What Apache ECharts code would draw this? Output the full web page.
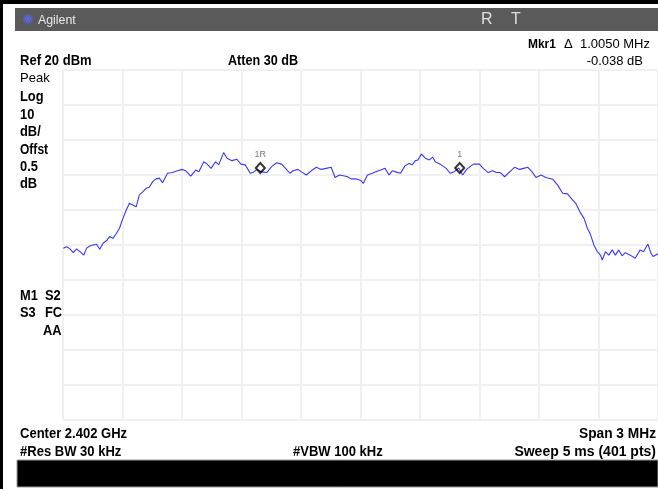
<!DOCTYPE html>
<html>
<head>
<meta charset="utf-8">
<script src="https://cdn.jsdelivr.net/npm/echarts@6/dist/echarts.min.js"></script>
<style>
html,body{margin:0;padding:0;background:#fff;}
#chart{width:658px;height:489px;}
</style>
</head>
<body>
<div id="chart"></div>
<script>
// ---- data (frequency in MHz, level in dBm) ----
const centerMHz = 2402.0;
const freqMHz = [
 2400.502,2400.519,2400.535,2400.552,2400.569,2400.585,2400.605,2400.619,2400.635,2400.652,
 2400.669,2400.685,2400.702,2400.719,2400.735,2400.752,2400.769,2400.785,2400.802,2400.819,
 2400.835,2400.852,2400.869,2400.885,2400.902,2400.919,2400.935,2400.952,2400.969,2400.985,
 2401.002,2401.027,2401.052,2401.077,2401.102,2401.119,2401.144,2401.169,2401.185,2401.210,
 2401.227,2401.247,2401.269,2401.285,2401.310,2401.327,2401.352,2401.377,2401.397,2401.419,
 2401.444,2401.460,2401.477,2401.502,2401.527,2401.552,2401.577,2401.602,2401.622,2401.644,
 2401.660,2401.685,2401.702,2401.727,2401.752,2401.777,2401.802,2401.827,2401.852,2401.872,
 2401.894,2401.919,2401.935,2401.952,2401.977,2402.002,2402.014,2402.035,2402.060,2402.077,
 2402.102,2402.124,2402.144,2402.160,2402.177,2402.202,2402.224,2402.244,2402.260,2402.277,
 2402.290,2402.307,2402.327,2402.347,2402.364,2402.377,2402.402,2402.432,2402.452,2402.472,
 2402.495,2402.515,2402.535,2402.569,2402.599,2402.619,2402.644,2402.665,2402.685,2402.705,
 2402.727,2402.752,2402.777,2402.802,2402.822,2402.844,2402.865,2402.885,2402.910,2402.935,
 2402.969,2402.994,2403.019,2403.044,2403.069,2403.085,2403.110,2403.127,2403.144,2403.160,
 2403.177,2403.194,2403.210,2403.219,2403.235,2403.252,2403.269,2403.285,2403.302,2403.319,
 2403.335,2403.360,2403.385,2403.410,2403.427,2403.449,2403.465,2403.475,2403.500
];
const levelDbm = [
 -30.9,-30.5,-31.1,-32.2,-31.1,-31.9,-32.9,-30.9,-30.3,-30.0,
 -29.8,-31.2,-29.5,-28.8,-27.6,-28.1,-26.7,-25.2,-22.4,-20.0,
 -18.1,-18.6,-19.1,-15.7,-14.8,-13.8,-13.5,-11.9,-11.1,-10.9,
 -12.2,-9.5,-9.3,-8.8,-8.4,-8.8,-10.3,-8.6,-9.1,-6.2,
 -6.9,-8.1,-6.2,-7.1,-3.6,-5.2,-5.9,-5.5,-6.9,-7.1,
 -9.5,-9.2,-8.4,-9.1,-9.3,-7.6,-6.5,-6.9,-8.1,-9.5,
 -8.8,-8.4,-9.1,-10.0,-8.8,-7.8,-8.4,-8.1,-7.8,-10.7,
 -10.0,-10.3,-10.5,-11.1,-11.1,-11.6,-12.4,-10.0,-9.5,-9.1,
 -8.6,-8.1,-10.0,-8.8,-9.1,-9.5,-7.4,-6.7,-7.1,-5.9,
 -5.7,-4.0,-5.2,-5.7,-4.9,-6.2,-6.9,-8.1,-9.5,-9.1,
 -8.0,-10.0,-8.4,-6.9,-6.9,-8.1,-9.3,-8.8,-9.3,-9.3,
 -10.5,-9.1,-7.8,-8.4,-8.1,-7.8,-9.1,-10.7,-10.0,-10.7,
 -11.2,-12.9,-15.2,-15.4,-17.1,-18.1,-20.9,-22.4,-25.2,-27.1,
 -30.0,-31.9,-32.9,-34.3,-31.9,-32.9,-31.4,-32.9,-31.4,-33.1,
 -32.2,-32.9,-33.8,-31.4,-31.9,-29.7,-32.4,-33.3,-32.5
];
const markerNames = ['1R', '1'];
const markerFreqMHz = [2401.495, 2402.500];
const markerDbm = [-8.0, -8.0];
const spanKHz = 3000;
const refLevel = 20;
const dbPerDiv = 10;
const divisions = 10;

// ---- build ----
const traceData = freqMHz.map((f, i) => [(f - centerMHz) * 1000, levelDbm[i]]);
const markerData = markerFreqMHz.map((f, i) => ({
  value: [(f - centerMHz) * 1000, markerDbm[i]],
  name: markerNames[i]
}));

const FONT = '"Liberation Sans", Arial, sans-serif';
function txt(x, y, s, opt) {
  opt = opt || {};
  const sx = opt.sx || (opt.bold === false ? 1 : 0.92);
  return {
    type: 'text', x: x, y: y, silent: true, scaleX: sx,
    style: {
      text: s,
      font: (opt.bold === false ? '' : 'bold ') + (opt.size || 14) + 'px ' + FONT,
      fill: opt.color || '#000',
      textAlign: opt.align || 'left',
      textVerticalAlign: 'middle'
    },
    z: 100
  };
}

const graphics = [
  // frame
  {type: 'rect', shape: {x: 0, y: 0, width: 658, height: 4}, style: {fill: '#000'}, z: 50},
  {type: 'rect', shape: {x: 0, y: 0, width: 3, height: 489}, style: {fill: '#000'}, z: 50},
  // title bar
  {type: 'rect', shape: {x: 15, y: 8, width: 643, height: 23}, style: {fill: '#5a5a5a'}, z: 50},
  // bottom black bar
  {type: 'rect', shape: {x: 17, y: 460, width: 641, height: 27}, style: {fill: '#000', stroke: '#9a9a9a', lineWidth: 1}, z: 50},
  // status texts
  txt(38, 20, 'Agilent', {bold: false, size: 13, color: '#e8e8e8', sx: 0.95}),
  txt(481, 20, 'R', {bold: false, size: 16, color: '#e0e0e0'}),
  txt(511, 20, 'T', {bold: false, size: 16, color: '#e0e0e0'}),
  txt(528, 44, 'Mkr1', {size: 13}),
  txt(650, 44, '\u0394  1.0050 MHz', {bold: false, size: 13, align: 'right'}),
  txt(643, 61, '-0.038 dB', {bold: false, size: 13, align: 'right'}),
  txt(20, 61, 'Ref 20 dBm', {sx: 0.93}),
  txt(228, 61, 'Atten 30 dB', {sx: 0.9}),
  txt(20, 78, 'Peak', {bold: false, size: 13}),
  txt(20, 97, 'Log'),
  txt(20, 115, '10'),
  txt(20, 132, 'dB/'),
  txt(20, 150, 'Offst', {sx: 0.86}),
  txt(20, 167, '0.5'),
  txt(20, 184, 'dB'),
  txt(20, 296, 'M1'),
  txt(45, 296, 'S2'),
  txt(20, 313, 'S3'),
  txt(45, 313, 'FC'),
  txt(43, 331, 'AA'),
  txt(20, 434, 'Center 2.402 GHz', {sx: 0.93}),
  txt(656, 434, 'Span 3 MHz', {sx: 0.98, align: 'right'}),
  txt(20, 452, '#Res BW 30 kHz', {sx: 0.93}),
  txt(293, 452, '#VBW 100 kHz', {sx: 0.93}),
  txt(656, 452, 'Sweep 5 ms (401 pts)', {sx: 1.0, align: 'right'})
];
// logo starburst
for (let k = 0; k < 6; k++) {
  const a = k * Math.PI / 6;
  graphics.push({type: 'line', shape: {x1: 28 - 5 * Math.cos(a), y1: 19 - 5 * Math.sin(a), x2: 28 + 5 * Math.cos(a), y2: 19 + 5 * Math.sin(a)},
    style: {stroke: k % 2 ? '#6a5cff' : '#3a7bff', lineWidth: 1}, z: 60, silent: true});
}

const chart = echarts.init(document.getElementById('chart'), null, {renderer: 'canvas'});
chart.setOption({
  animation: false,
  backgroundColor: '#fff',
  grid: {left: 63, top: 70, width: 600, height: 350, containLabel: false},
  xAxis: {
    type: 'value', min: -spanKHz / 2, max: spanKHz / 2, interval: spanKHz / divisions,
    axisLine: {show: false}, axisTick: {show: false}, axisLabel: {show: false},
    splitLine: {show: true, lineStyle: {color: '#f0f0f0', width: 2}}
  },
  yAxis: {
    type: 'value', min: refLevel - dbPerDiv * divisions, max: refLevel, interval: dbPerDiv,
    axisLine: {show: false}, axisTick: {show: false}, axisLabel: {show: false},
    splitLine: {show: true, lineStyle: {color: '#f0f0f0', width: 2}}
  },
  series: [
    {
      type: 'line', data: traceData, showSymbol: false, symbol: 'none',
      lineStyle: {color: '#3838f8', width: 1.1}, z: 3
    },
    {
      type: 'scatter', data: markerData, symbol: 'diamond', symbolSize: [9, 10],
      itemStyle: {color: 'rgba(255,255,255,0)', borderColor: '#000', borderWidth: 2}, z: 5,
      label: {show: true, position: 'top', distance: 3, formatter: p => p.name,
        fontSize: 9, color: '#555', fontFamily: FONT}
    }
  ],
  graphic: graphics
});
</script>
</body>
</html>
